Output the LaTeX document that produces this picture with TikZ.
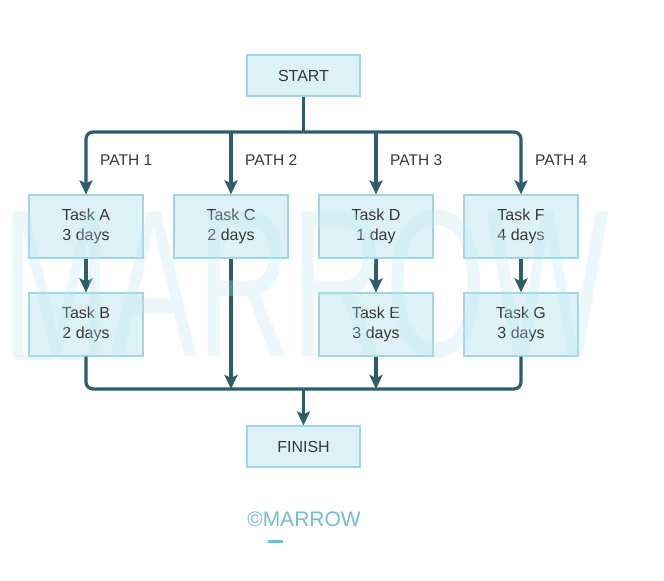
\documentclass[tikz,border=0pt]{standalone}
\usepackage{fontspec}
\setmainfont{Liberation Sans}
\usetikzlibrary{arrows.meta}
\definecolor{boxfill}{RGB}{221,242,247}
\definecolor{boxline}{RGB}{160,214,225}
\definecolor{conn}{RGB}{45,93,107}
\definecolor{txt}{RGB}{55,55,55}
\definecolor{wmark}{RGB}{190,230,238}
\definecolor{logo}{RGB}{112,190,206}
\begin{document}
\begin{tikzpicture}[x=1pt,y=-1pt,
  taskbox/.style={draw=boxline, line width=1.2pt, fill=boxfill,
    minimum width=114pt, minimum height=63pt, align=center, text=txt,
    font=\fontsize{16}{20.5}\selectfont, inner sep=0pt},
  endbox/.style={taskbox, minimum width=113pt, minimum height=41pt},
  pathlbl/.style={anchor=west, text=txt, font=\fontsize{15.5}{18}\selectfont, inner sep=0pt},
  link/.style={draw=conn, line width=3.2pt},
  arrowlink/.style={link, -{Stealth[length=14pt,width=13pt,inset=3pt]}},
]
\useasboundingbox (0,0) rectangle (664,581);

% boxes
\node[endbox] (start) at (303.5,75.5) {START};
\node[taskbox] (a) at (86,226.5) {Task A\\3 days};
\node[taskbox] (c) at (231,226.5) {Task C\\2 days};
\node[taskbox] (d) at (376,226.5) {Task D\\1 day};
\node[taskbox] (f) at (521,226.5) {Task F\\4 days};
\node[taskbox] (b) at (86,324.5) {Task B\\2 days};
\node[taskbox] (e) at (376,324.5) {Task E\\3 days};
\node[taskbox] (g) at (521,324.5) {Task G\\3 days};
\node[endbox] (finish) at (303.5,446.5) {FINISH};

\coordinate (jt) at (303.5,132);
\coordinate (jb) at (303.5,389);

% top distribution
\draw[link] (start.south) -- (jt);
\draw[arrowlink, rounded corners=7pt] (jt) -| (a.north);
\draw[arrowlink, rounded corners=7pt] (jt) -| (f.north);
\draw[arrowlink] (c.north |- jt) -- (c.north);
\draw[arrowlink] (d.north |- jt) -- (d.north);

% middle arrows
\draw[arrowlink] (a.south) -- (b.north);
\draw[arrowlink] (d.south) -- (e.north);
\draw[arrowlink] (f.south) -- (g.north);

% bottom collection
\draw[link, rounded corners=7pt] (b.south) |- (jb);
\draw[link, rounded corners=7pt] (g.south) |- (jb);
\draw[arrowlink] (c.south) -- (c.south |- jb);
\draw[arrowlink] (e.south) -- (e.south |- jb);
\draw[arrowlink] (jb) -- (finish.north);

% path labels
\node[pathlbl] (p1) at (100,160) {PATH 1};
\node[pathlbl] (p2) at (245,160) {PATH 2};
\node[pathlbl] (p3) at (390,160) {PATH 3};
\node[pathlbl] (p4) at (535,160) {PATH 4};

% logo
\node[text=logo, font=\fontsize{21}{24}\selectfont, inner sep=0pt] (logo) at (304,519) {©MARROW};
\fill[logo] (268,540) rectangle (283,542.5);

% watermark
\begin{scope}[opacity=0.3]
\node[text=wmark, font=\fontsize{210}{210}\selectfont, xscale=0.62, inner sep=0pt] (wm) at (306,284) {MARROW};
\fill[wmark] (15,355) rectangle (82,360);
\end{scope}
\end{tikzpicture}
\end{document}
